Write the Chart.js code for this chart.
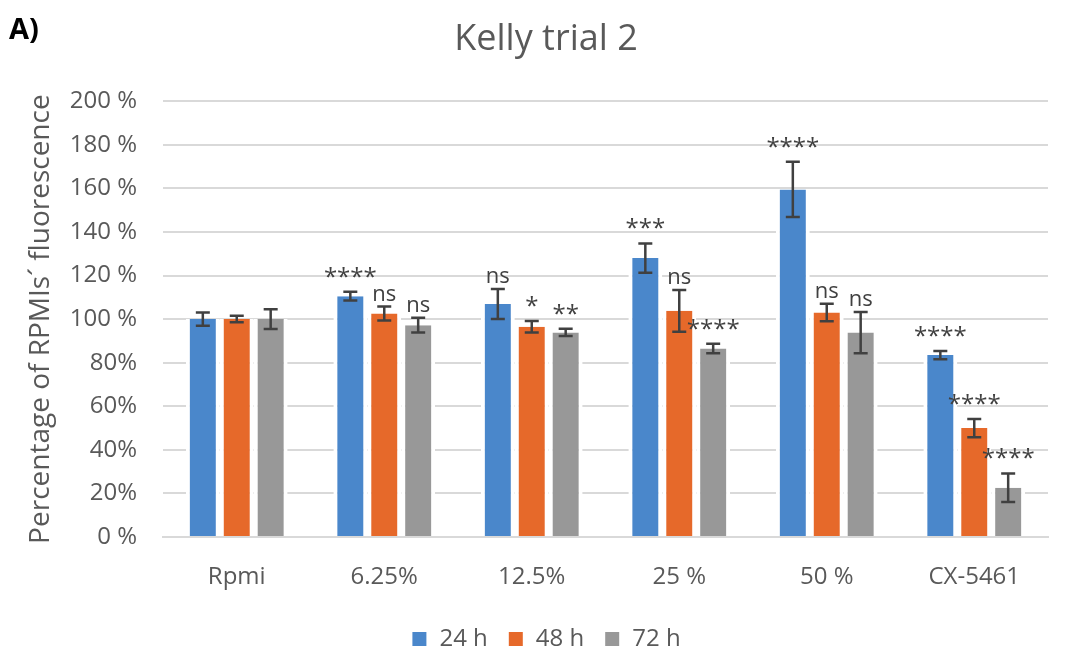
<!DOCTYPE html>
<html>
<head>
<meta charset="utf-8">
<script src="https://cdn.jsdelivr.net/npm/chart.js@4/dist/chart.umd.min.js"></script>
<style>
  html, body { margin: 0; padding: 0; background: #fff; }
  #wrap { width: 1067px; height: 653px; position: relative; }
</style>
</head>
<body>
<div id="wrap"><canvas id="c" width="1067" height="653"></canvas></div>
<script>
const categories = ['Rpmi', '6.25%', '12.5%', '25 %', '50 %', 'CX-5461'];
const seriesNames = ['24 h', '48 h', '72 h'];
const values24 = [100, 110.5, 106.9, 128, 159.5, 83.5];
const values48 = [100, 102.6, 96.5, 103.8, 103, 50];
const values72 = [100, 97.2, 93.9, 86.5, 93.8, 22.6];
const errors24 = [3, 2, 6.9, 6.7, 12.7, 1.9];
const errors48 = [1.5, 3.2, 2.6, 9.6, 4, 4.2];
const errors72 = [4.5, 3.4, 1.7, 2.2, 9.5, 6.5];
const signif24 = ['', '****', 'ns', '***', '****', '****'];
const signif48 = ['', 'ns', '*', 'ns', 'ns', '****'];
const signif72 = ['', 'ns', '**', '****', 'ns', '****'];
const yTicks = [0, 20, 40, 60, 80, 100, 120, 140, 160, 180, 200];
const colors = ['#4a87cb', '#e6692a', '#989898'];

const FONT = '"Open Sans", sans-serif';
const TXT = '#595959';

const allErrors = [errors24, errors48, errors72];
const allSignif = [signif24, signif48, signif72];

const errorBarPlugin = {
  id: 'errorBars',
  afterDatasetsDraw(chart) {
    const ctx = chart.ctx;
    const y = chart.scales.y;
    ctx.save();
    chart.data.datasets.forEach((ds, i) => {
      const meta = chart.getDatasetMeta(i);
      meta.data.forEach((bar, j) => {
        const v = ds.data[j];
        const e = allErrors[i][j];
        const yt = y.getPixelForValue(v + e);
        const yb = y.getPixelForValue(v - e);
        ctx.strokeStyle = '#404040';
        ctx.lineWidth = 2.5;
        ctx.beginPath();
        ctx.moveTo(bar.x, yt); ctx.lineTo(bar.x, yb);
        ctx.moveTo(bar.x - 7, yt); ctx.lineTo(bar.x + 7, yt);
        ctx.moveTo(bar.x - 7, yb); ctx.lineTo(bar.x + 7, yb);
        ctx.stroke();
        const s = allSignif[i][j];
        if (s) {
          const star = s.indexOf('*') >= 0;
          ctx.fillStyle = '#404040';
          ctx.textAlign = 'center';
          ctx.textBaseline = 'bottom';
          if (star) {
            ctx.font = '24px ' + FONT;
            ctx.fillText(s, bar.x, yt - 2);
          } else {
            ctx.font = '22px ' + FONT;
            ctx.fillText(s, bar.x, yt - 1);
          }
        }
      });
    });
    ctx.restore();
  },
  afterDraw(chart) {
    const ctx = chart.ctx;
    ctx.save();
    ctx.fillStyle = '#000';
    ctx.font = 'bold 29px ' + FONT;
    ctx.textAlign = 'left';
    ctx.textBaseline = 'middle';
    ctx.fillText('A)', 9, 31);
    ctx.restore();
  }
};

new Chart(document.getElementById('c'), {
  type: 'bar',
  data: {
    labels: categories,
    datasets: [values24, values48, values72].map((d, i) => ({
      label: seriesNames[i],
      data: d,
      backgroundColor: colors[i],
      borderColor: '#ffffff',
      borderWidth: { left: 4, right: 4, top: 0, bottom: 0 },
      borderSkipped: false,
      barPercentage: 1,
      categoryPercentage: 0.69
    }))
  },
  options: {
    responsive: false,
    animation: false,
    layout: { padding: { left: 44, right: 19, top: 6, bottom: -8 } },
    plugins: {
      title: {
        display: true,
        text: 'Kelly trial 2',
        color: TXT,
        font: { family: FONT, size: 36, weight: 'normal' },
        padding: { top: 12, bottom: 40 }
      },
      legend: {
        position: 'bottom',
        labels: {
          color: TXT,
          font: { family: FONT, size: 24 },
          boxWidth: 16,
          boxHeight: 16,
          padding: 20
        }
      },
      tooltip: { enabled: false }
    },
    scales: {
      x: {
        grid: { display: false },
        border: { color: '#d9d9d9', width: 2 },
        ticks: { color: TXT, font: { family: FONT, size: 24 }, padding: 18 },
        afterFit(axis) { axis.height = 70; }
      },
      y: {
        min: 0, max: 200,
        afterBuildTicks(axis) { axis.ticks = yTicks.map(v => ({ value: v })); },
        afterFit(axis) { axis.width = 119; },
        grid: { color: '#d9d9d9', lineWidth: 2, drawTicks: false },
        border: { display: false },
        ticks: {
          color: TXT,
          font: { family: FONT, size: 24 },
          padding: 26,
          callback: v => v + (v >= 100 || v === 0 ? ' %' : '%')
        },
        title: {
          display: true,
          text: 'Percentage of RPMIs´ fluorescence',
          color: TXT,
          font: { family: FONT, size: 28 },
          padding: { top: -20, bottom: 0 }
        }
      }
    }
  },
  plugins: [errorBarPlugin]
});
</script>
</body>
</html>
